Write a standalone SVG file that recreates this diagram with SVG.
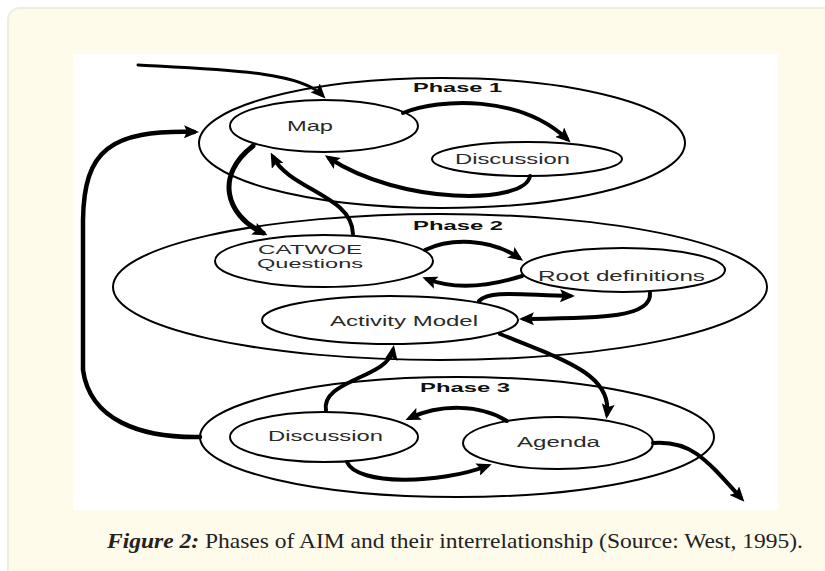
<svg xmlns="http://www.w3.org/2000/svg" width="825" height="571" viewBox="0 0 825 571">
  <defs>
    <style>
      .phase { fill: none; stroke: #000; stroke-width: 2; }
      .node { fill: #fff; stroke: #000; stroke-width: 2; }
      .lbl { font-family: "Liberation Sans", Arial, sans-serif; font-size: 14px; fill: #2a2a2a; }
      .lbl2 { font-family: "Liberation Sans", Arial, sans-serif; font-size: 12.5px; fill: #2a2a2a; }
      .ph { font-family: "Liberation Sans", Arial, sans-serif; font-size: 13px; font-weight: bold; fill: #111; }
      .link { fill: none; stroke: #000; stroke-width: 4; stroke-linecap: round; }
      .cap { font-family: "Liberation Serif", "Times New Roman", serif; font-size: 21px; fill: #222; }
    </style>
    <marker id="head" viewBox="0 0 15 13" refX="10" refY="6.5" markerWidth="15" markerHeight="13" markerUnits="userSpaceOnUse" orient="auto">
      <path d="M0,0 L15,6.5 L0,13 L3,6.5 z" fill="#000"/>
    </marker>
  </defs>

  <!-- page card -->
  <rect x="0" y="0" width="825" height="571" fill="#fff"/>
  <rect x="8" y="8" width="840" height="600" rx="12" fill="#fefbea" stroke="#efede0" stroke-width="2"/>
  <!-- figure panel -->
  <rect x="73" y="54" width="705" height="456" fill="#fff"/>

  <!-- phase containers -->
  <g id="phase1">
    <ellipse class="phase" cx="442" cy="143" rx="243" ry="65"/>
    <text class="ph" x="413" y="92" textLength="89" lengthAdjust="spacingAndGlyphs">Phase 1</text>
  </g>
  <g id="phase2">
    <ellipse class="phase" cx="440" cy="287" rx="327" ry="73"/>
    <text class="ph" x="413" y="230" textLength="90" lengthAdjust="spacingAndGlyphs">Phase 2</text>
  </g>
  <g id="phase3">
    <ellipse class="phase" cx="457" cy="437" rx="257" ry="60"/>
    <text class="ph" x="420" y="392" textLength="90" lengthAdjust="spacingAndGlyphs">Phase 3</text>
  </g>

  <!-- activity nodes -->
  <g id="map">
    <ellipse class="node" cx="324" cy="126" rx="94" ry="26"/>
    <text class="lbl" x="287" y="131" textLength="46" lengthAdjust="spacingAndGlyphs">Map</text>
  </g>
  <g id="discussion1">
    <ellipse class="node" cx="527" cy="159" rx="95" ry="17"/>
    <text class="lbl" x="455" y="164" textLength="115" lengthAdjust="spacingAndGlyphs">Discussion</text>
  </g>
  <g id="catwoe">
    <ellipse class="node" cx="324" cy="261" rx="109" ry="26"/>
    <text class="lbl2" x="258" y="254" textLength="104" lengthAdjust="spacingAndGlyphs">CATWOE</text>
    <text class="lbl2" x="257" y="267.5" textLength="106" lengthAdjust="spacingAndGlyphs">Questions</text>
  </g>
  <g id="root">
    <ellipse class="node" cx="623" cy="270" rx="102" ry="22"/>
    <text class="lbl" x="538" y="281" textLength="167" lengthAdjust="spacingAndGlyphs">Root definitions</text>
  </g>
  <g id="activity">
    <ellipse class="node" cx="390" cy="320" rx="128" ry="24"/>
    <text class="lbl" x="330" y="326" textLength="148" lengthAdjust="spacingAndGlyphs">Activity Model</text>
  </g>
  <g id="discussion3">
    <ellipse class="node" cx="324" cy="437" rx="94" ry="25"/>
    <text class="lbl" x="268" y="441" textLength="115" lengthAdjust="spacingAndGlyphs">Discussion</text>
  </g>
  <g id="agenda">
    <ellipse class="node" cx="558" cy="443" rx="95" ry="26"/>
    <text class="lbl" x="517" y="447" textLength="83" lengthAdjust="spacingAndGlyphs">Agenda</text>
  </g>

  <!-- connectors -->
  <g id="connectors" marker-end="url(#head)">
    <path class="link" style="stroke-width:3" d="M138,65 C230,70 300,72 322,95"/>
    <path class="link" d="M403,113 C440,98 520,95 567,139"/>
    <path class="link" d="M530,176 C525,205 400,205 329,158"/>
    <path class="link" style="stroke-width:5" d="M253,146 C215,175 225,215 263,233"/>
    <path class="link" d="M353,234 C352,195 290,190 273,157"/>
    <path class="link" style="stroke-width:4.5" d="M200,437 C140,438 90,420 83,370 L83,220 C84,150 110,130 194,132"/>
    <path class="link" d="M425,250 C450,238 490,238 519,258"/>
    <path class="link" d="M522,276 C490,286 455,290 427,279"/>
    <path class="link" d="M479,301 C490,290 520,295 570,296"/>
    <path class="link" d="M650,293 C652,318 600,318 524,319"/>
    <path class="link" d="M500,334 C565,360 612,375 607,414"/>
    <path class="link" d="M326,411 C320,380 388,378 393,350"/>
    <path class="link" d="M507,421 C480,404 440,404 410,418"/>
    <path class="link" d="M347,462 C357,486 440,484 487,466"/>
    <path class="link" d="M653,443 C690,440 705,458 741,498"/>
  </g>

  <!-- caption -->
  <text class="cap" x="107" y="548" textLength="696" lengthAdjust="spacingAndGlyphs"><tspan font-weight="bold" font-style="italic">Figure 2:</tspan> Phases of AIM and their interrelationship (Source: West, 1995).</text>
</svg>
